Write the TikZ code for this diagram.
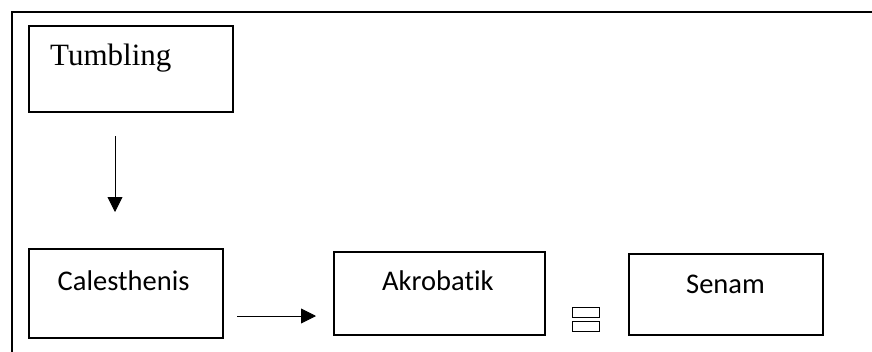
\documentclass[tikz,border=0pt]{standalone}
\usepackage{fontspec}
\setmainfont{Liberation Serif}
\newfontfamily\calfont[Ligatures=NoCommon]{Carlito}
\usetikzlibrary{arrows.meta}
\begin{document}
\begin{tikzpicture}[x=1pt,y=-1pt,
  boxstyle/.style={draw=black,line width=1.8pt,inner sep=0pt,anchor=north west},
  lbl/.style={inner sep=0pt,anchor=base west},
  arr/.style={line width=0.9pt,-{Triangle[length=15pt,width=15pt]}},
  serifbig/.style={font=\fontsize{31}{37}\selectfont},
  sansbig/.style={font=\calfont\fontsize{28.5}{34}\selectfont}]
\useasboundingbox (0,0) rectangle (872,351);
\fill[white] (0,0) rectangle (872,351);
% outer frame
\draw[line width=2pt] (12,365) -- (12,12) -- (885,12);
% boxes
\node[boxstyle,minimum width=204pt,minimum height=86pt] (tumb) at (28,25) {};
\node[boxstyle,minimum width=194pt,minimum height=89pt] (cal) at (28,248) {};
\node[boxstyle,minimum width=211pt,minimum height=83pt] (akro) at (333,251) {};
\node[boxstyle,minimum width=194pt,minimum height=81pt] (senam) at (628,253) {};
% labels
\node[lbl,serifbig] (tumbT) at (50,65) {Tumbling};
\node[lbl,sansbig] (calT) at (57.5,290) {Calesthenis};
\node[lbl,sansbig] (akroT) at (382,290) {Akrobatik};
\node[lbl,sansbig] (senamT) at (686,293) {Senam};
% equals-like symbol
\node[draw=black,line width=1.8pt,inner sep=0pt,minimum width=27pt,minimum height=10pt,anchor=north west] (eqA) at (571.5,306.5) {};
\node[draw=black,line width=1.8pt,inner sep=0pt,minimum width=27pt,minimum height=10pt,anchor=north west] (eqB) at (571.5,320.5) {};
% arrows
\coordinate (a1s) at (115,136);
\coordinate (a1e) at (115,212);
\coordinate (a2s) at (237,316);
\coordinate (a2e) at (316,316);
\draw[arr] (a1s) -- (a1e);
\draw[arr] (a2s) -- (a2e);
\end{tikzpicture}
\end{document}
